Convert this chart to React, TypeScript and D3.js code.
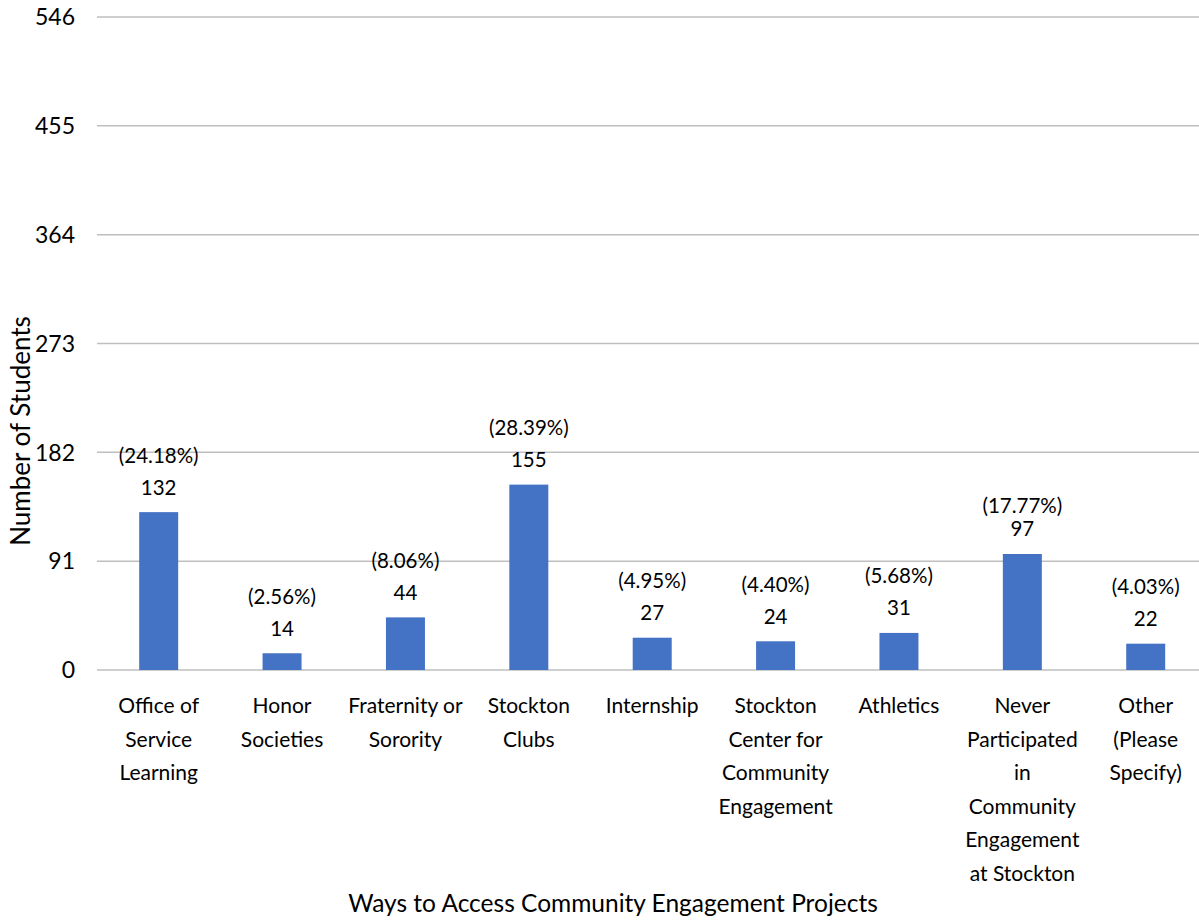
import React from "react";
import * as d3 from "d3";

const categories: string[][] = [
  ["Office of", "Service", "Learning"],
  ["Honor", "Societies"],
  ["Fraternity or", "Sorority"],
  ["Stockton", "Clubs"],
  ["Internship"],
  ["Stockton", "Center for", "Community", "Engagement"],
  ["Athletics"],
  ["Never", "Participated", "in", "Community", "Engagement", "at Stockton"],
  ["Other", "(Please", "Specify)"],
];
const values: number[] = [132, 14, 44, 155, 27, 24, 31, 97, 22];
const percents: string[] = ["24.18%", "2.56%", "8.06%", "28.39%", "4.95%", "4.40%", "5.68%", "17.77%", "4.03%"];
const yTicks: number[] = [0, 91, 182, 273, 364, 455, 546];

const W = 1199;
const H = 920;
const FONT = "Lato, 'Open Sans', sans-serif";

export default function App() {
  const keys = categories.map((c) => c.join(" "));
  const x = d3
    .scaleBand<string>()
    .domain(keys)
    .range([97, 1207.4])
    .paddingInner(0.684)
    .paddingOuter(0.342);
  const y = d3.scaleLinear().domain([0, 546]).range([670, 17]);

  return (
    <svg
      width={W}
      height={H}
      style={{ position: "absolute", left: 0, top: 0, background: "#fff" }}
      fontFamily={FONT}
    >
      {yTicks.map((t) => (
        <g key={t}>
          <line x1={97} x2={1207} y1={y(t)} y2={y(t)} stroke="#bfbfbf" strokeWidth={1.5} />
          <text x={75} y={y(t)} dy="0.36em" textAnchor="end" fontSize={23} fill="#000">
            {t}
          </text>
        </g>
      ))}
      {values.map((v, i) => {
        const k = keys[i];
        const cx = (x(k) as number) + x.bandwidth() / 2;
        const top = y(v);
        const pctCenter = i === 7 ? top - 48 : top - 57;
        return (
          <g key={k}>
            <rect x={x(k)} y={top} width={x.bandwidth()} height={y(0) - top} fill="#4472C4" />
            <text x={cx} y={top - 25} dy="0.36em" textAnchor="middle" fontSize={20.5} fill="#000">
              {v}
            </text>
            <text x={cx} y={pctCenter} dy="0.36em" textAnchor="middle" fontSize={20.5} fill="#000">
              ({percents[i]})
            </text>
            {categories[i].map((line, j) => (
              <text
                key={j}
                x={cx}
                y={713 + j * 33.5}
                textAnchor="middle"
                fontSize={21}
                fill="#000"
              >
                {line}
              </text>
            ))}
          </g>
        );
      })}
      <text
        transform={`translate(30, 431) rotate(-90)`}
        textAnchor="middle"
        fontSize={26}
        fill="#000"
      >
        Number of Students
      </text>
      <text x={613} y={912} textAnchor="middle" fontSize={24.5} fill="#000">
        Ways to Access Community Engagement Projects
      </text>
    </svg>
  );
}
